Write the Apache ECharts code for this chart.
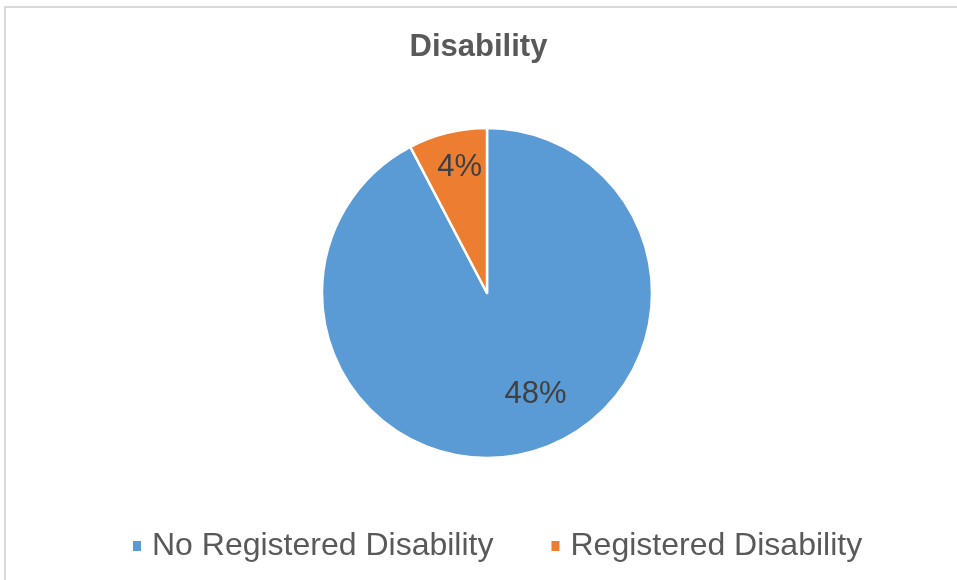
<!DOCTYPE html>
<html>
<head>
    <meta charset="UTF-8">
    <title>Disability</title>
    <script src="https://cdn.jsdelivr.net/npm/echarts@6/dist/echarts.min.js"></script>
    <style>
        html, body { margin: 0; padding: 0; background: #fff; }
        #chart { width: 957px; height: 580px; }
    </style>
</head>
<body>
    <div id="chart"></div>
<script type="text/javascript">
    var categories = ["No Registered Disability", "Registered Disability"];
    var values = [48, 4];
    var labelTexts = ["48%", "4%"];
    var colors = ['#5B9BD5', '#ED7D31'];
    // nudge each label from the slice's middle to where the original shows it
    var labelOffsets = [[28, 18], [-7, -43]];

    var pieData = [];
    for (var i = 0; i < categories.length; i++) {
        pieData.push({
            name: categories[i],
            value: values[i],
            itemStyle: { color: colors[i] },
            label: { formatter: labelTexts[i], offset: labelOffsets[i] }
        });
    }

    var option = {
        backgroundColor: '#ffffff',
        animation: false,
        textStyle: { fontFamily: 'Liberation Sans, Arial, sans-serif' },
        graphic: [{
            type: 'rect',
            shape: { x: 5, y: 7, width: 1200, height: 1000 },
            style: { fill: 'none', stroke: '#d9d9d9', lineWidth: 2 },
            silent: true
        }],
        title: {
            text: 'Disability',
            left: 'center',
            top: 27,
            textStyle: {
                color: '#595959',
                fontSize: 31,
                fontWeight: 'bold',
                fontFamily: 'Liberation Sans, Arial, sans-serif'
            }
        },
        legend: {
            data: categories,
            left: 126,
            top: 525,
            icon: 'rect',
            itemWidth: 10,
            itemHeight: 12,
            itemGap: 56,
            textStyle: {
                color: '#595959',
                fontSize: 32,
                padding: [0, 0, 0, 5]
            }
        },
        series: [{
            type: 'pie',
            center: [487, 293],
            radius: [0, 165],
            startAngle: 90,
            clockwise: true,
            data: pieData,
            itemStyle: { borderColor: '#ffffff', borderWidth: 2.5 },
            label: {
                show: true,
                position: 'inside',
                color: '#404040',
                fontSize: 31
            },
            labelLine: { show: false },
            emphasis: { disabled: true }
        }]
    };
    echarts.init(document.getElementById("chart")).setOption(option);
</script>
</body>
</html>
